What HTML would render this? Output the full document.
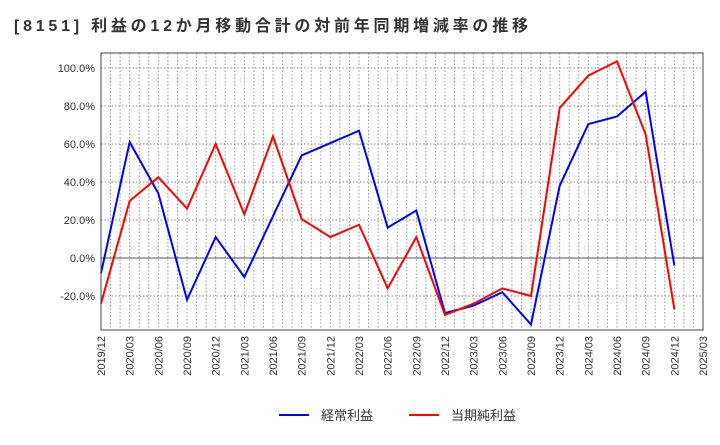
<!DOCTYPE html>
<html><head><meta charset="utf-8"><style>
body{margin:0;background:#fff;font-family:"Liberation Sans","Noto Sans CJK JP",sans-serif}
</style></head><body>
<svg width="720" height="440" xmlns="http://www.w3.org/2000/svg" font-family="Liberation Sans, Noto Sans CJK JP, sans-serif">
<text x="14" y="31" font-size="16" font-weight="bold" fill="#333" textLength="514" lengthAdjust="spacing">[8151]  利益の12か月移動合計の対前年同期増減率の推移</text>
<g id="grid"></g><g id="lines"></g><g id="axes"></g>
<g>
<line x1="279" y1="415" x2="309" y2="415" stroke="#0000ff" stroke-width="2"/>
<text x="321" y="420" font-size="13" fill="#333">経常利益</text>
<line x1="409" y1="415" x2="439" y2="415" stroke="#ff0000" stroke-width="2"/>
<text x="451" y="420" font-size="13" fill="#333">当期純利益</text>
</g>
</svg>
<script>
const categories=["2019/12","2020/03","2020/06","2020/09","2020/12","2021/03","2021/06","2021/09","2021/12","2022/03","2022/06","2022/09","2022/12","2023/03","2023/06","2023/09","2023/12","2024/03","2024/06","2024/09","2024/12","2025/03"];
const keijo=[-8,61,34,-22,11,-10,22,54,60.5,67,16,25,-29,-25,-18,-35,38,70.5,74.5,87.5,-4];
const junrieki=[-24,30,42.5,26,60,23,64,20.5,11,17.5,-16,11,-30,-24,-16,-20,79,96,103.5,65,-27];
const yTicks=[-20,0,20,40,60,80,100];
const yLabels=["-20.0%","0.0%","20.0%","40.0%","60.0%","80.0%","100.0%"];
const L=101,R=703,T=53,B=330;
const xs=i=>L+i*(R-L)/(categories.length-1);
const ys=v=>258-v*1.9;
const NS="http://www.w3.org/2000/svg";
function mk(tag,attrs,parent){const e=document.createElementNS(NS,tag);for(const k in attrs)e.setAttribute(k,attrs[k]);parent.appendChild(e);return e;}
const grid=document.getElementById('grid'),lines=document.getElementById('lines'),axes=document.getElementById('axes');
for(let m=1;m<(categories.length-1)*3;m++){const x=L+m*(R-L)/((categories.length-1)*3);
const g=mk('line',{x1:x,x2:x,y1:T,y2:B,stroke:'#999','stroke-dasharray':'1.5,2','stroke-width':1},grid);

}
yTicks.forEach((v,i)=>{const y=ys(v);
const g=mk('line',{x1:L,x2:R,y1:y,y2:y,stroke:v===0?'#555':'#888','stroke-dasharray':v===0?'':'1.5,2','stroke-width':1},grid);


const t=mk('text',{x:L-6,y:y+4,'font-size':11,'text-anchor':'end',fill:'#333'},axes);t.textContent=yLabels[i];

});
categories.forEach((c,i)=>{const x=xs(i);
const t=mk('text',{x:0,y:0,'font-size':11,'text-anchor':'end',fill:'#333',transform:`translate(${x+4},${B+6}) rotate(-90)`},axes);t.textContent=c;

});
const fr=mk('rect',{x:L,y:T,width:R-L,height:B-T,fill:'none',stroke:'#444','stroke-width':1},axes);


function series(arr,color,name){const p=mk('polyline',{points:arr.map((v,i)=>xs(i)+','+ys(v)).join(' '),fill:'none',stroke:color,'stroke-width':2,'stroke-linejoin':'miter'},lines);

}
series(keijo,'#0000ff','keijo-line');
series(junrieki,'#ff0000','junrieki-line');
</script>
</body></html>
